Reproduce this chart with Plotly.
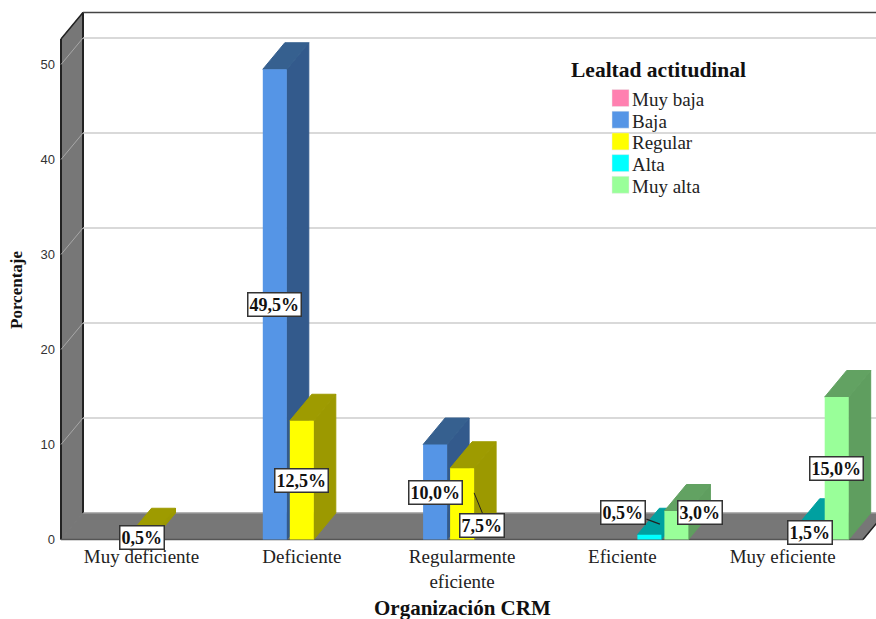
import plotly.graph_objects as go

# Survey percentages per CRM rating, one list per loyalty level
categories = ["Muy deficiente", "Deficiente", "Regularmente<br>eficiente", "Eficiente", "Muy eficiente"]
muy_baja = [None, None, None, None, None]
baja = [None, 49.5, 10.0, None, None]
regular = [0.5, 12.5, 7.5, None, None]
alta = [None, None, None, 0.5, 1.5]
muy_alta = [None, None, None, 3.0, 15.0]
y_ticks = [0, 10, 20, 30, 40, 50]

series_names = ["Muy baja", "Baja", "Regular", "Alta", "Muy alta"]
series_values = [muy_baja, baja, regular, alta, muy_alta]
front_colors = ["#ff80b0", "#5595e6", "#ffff00", "#00ffff", "#99ff99"]
side_colors = ["#a05070", "#335a8c", "#9c9900", "#009c9c", "#5f9e5f"]
top_colors = ["#a85578", "#36608f", "#9e9b00", "#00a0a0", "#62a262"]

# Plot frame and scale, in page pixels
W, H = 876, 619
L, R, T, B = 58, 876, 10, 543
PX_CAT = 160.3     # pixels per category
PX_VAL = 9.5       # pixels per percentage point
X0_PX, Y0_PX = 141.5, 539.5
x_range = [(L - X0_PX) / PX_CAT, (R - X0_PX) / PX_CAT]
y_range = [(Y0_PX - B) / PX_VAL, (Y0_PX - T) / PX_VAL]

DX = 22 / PX_CAT   # oblique depth along x
DY = 26.5 / PX_VAL # oblique depth along y
SLOT = 27 / PX_CAT
BAR = 24 / PX_CAT
WALL_X = (61 - X0_PX) / PX_CAT
FLOOR_X = (863 - X0_PX) / PX_CAT
WALL_TOP = (Y0_PX - 39) / PX_VAL


def poly(points, fill, line=None, width=1):
    path = "M" + " L".join(f"{x},{y}" for x, y in points) + " Z"
    return dict(type="path", path=path, xref="x", yref="y", layer="below",
                fillcolor=fill, line=dict(color=line or fill, width=width))


def seg(x0, y0, x1, y1, color, width, layer="below"):
    return dict(type="line", x0=x0, y0=y0, x1=x1, y1=y1, xref="x", yref="y",
                layer=layer, line=dict(color=color, width=width))


def px(x):
    return (x - L) / (R - L)


def py(y):
    return (B - y) / (B - T)


GREY = "#777777"
shapes = [
    # floor and left wall
    poly([(WALL_X, 0), (FLOOR_X, 0), (FLOOR_X + DX, DY), (WALL_X + DX, DY)], GREY),
    poly([(WALL_X, 0), (WALL_X + DX, DY), (WALL_X + DX, WALL_TOP + DY), (WALL_X, WALL_TOP)], GREY),
    seg(WALL_X, 0, WALL_X, WALL_TOP, "#222222", 2),
    seg(WALL_X + DX, DY, WALL_X + DX, WALL_TOP + DY, "#222222", 2),
    seg(WALL_X, WALL_TOP, WALL_X + DX, WALL_TOP + DY, "#222222", 1.5),
    seg(WALL_X + DX, WALL_TOP + DY, x_range[1], WALL_TOP + DY, "#444444", 1.5),
    seg(WALL_X, 0, FLOOR_X, 0, "#555555", 1.5),
    seg(FLOOR_X, 0, FLOOR_X + DX, DY, "#222222", 1.5),
    seg(WALL_X + DX, DY, x_range[1], DY, "#aaaaaa", 1),
]

# Gridlines on the back wall, and their slanted continuation over the left wall
for t in y_ticks[1:]:
    shapes.append(seg(WALL_X + DX, t + DY, x_range[1], t + DY, "#cccccc", 1.5))
    shapes.append(seg(WALL_X, t, WALL_X + DX, t + DY, "#a8a8a8", 1))

# White area kept clear for the legend
shapes.append(dict(type="rect", xref="paper", yref="paper", layer="below",
                   x0=px(517), x1=px(798), y0=py(235), y1=py(50),
                   fillcolor="white", line=dict(width=0)))

# Oblique side and top faces of each bar, computed from its value
for s, values in enumerate(series_values):
    offset = (s - 2) * SLOT
    for c, v in enumerate(values):
        if v is None:
            continue
        x0 = c + offset - BAR / 2
        x1 = c + offset + BAR / 2
        shapes.append(poly([(x1, 0), (x1 + DX, DY), (x1 + DX, v + DY), (x1, v)], side_colors[s]))
        shapes.append(poly([(x0, v), (x1, v), (x1 + DX, v + DY), (x0 + DX, v + DY)], top_colors[s]))

fig = go.Figure()
for name, values, color in zip(series_names, series_values, front_colors):
    fig.add_trace(go.Bar(name=name, x=list(range(len(categories))), y=values,
                         marker=dict(color=color, line=dict(width=0)), showlegend=False))


def pct(v):
    return f"{v:.1f}%".replace(".", ",")


# Value labels: (series index, category index, x shift, y shift) in pixels
label_nudges = [
    (2, 0, 0, 0), (1, 1, 0, 0), (2, 1, 0, 0), (1, 2, 0, 0), (2, 2, 20, -22),
    (3, 3, -26.5, 25), (4, 3, 23.5, 13), (3, 4, 0, 0), (4, 4, 0, 0),
]
annotations = []
for s, c, xs, ys in label_nudges:
    v = series_values[s][c]
    annotations.append(dict(
        x=c + (s - 2) * SLOT, y=v / 2, xref="x", yref="y", text=pct(v), showarrow=False,
        xanchor="center", yanchor="middle",
        xshift=xs, yshift=ys, bgcolor="white", bordercolor="#333333", borderwidth=1.5, borderpad=1,
        font=dict(family="Liberation Serif", size=18, color="#111111", weight="bold")))

# Leader lines for the two labels moved off their bars
shapes.append(seg(2 + 12 / PX_CAT, regular[2] / 2 + 11 / PX_VAL,
                  2 + 21 / PX_CAT, regular[2] / 2 - 11 / PX_VAL, "#222222", 1, "above"))
shapes.append(seg(3 + SLOT - 3 / PX_CAT, alta[3] / 2 + 18 / PX_VAL,
                  3 + SLOT + 10.5 / PX_CAT, alta[3] / 2 + 13 / PX_VAL, "#222222", 1.2, "above"))

# Legend block
annotations.append(dict(x=px(658), y=py(70), xref="paper", yref="paper", text="Lealtad actitudinal",
                        showarrow=False, xanchor="center", yanchor="middle",
                        font=dict(family="Liberation Serif", size=21.5, color="#111111", weight="bold")))
for i, (name, color) in enumerate(zip(series_names, front_colors)):
    yc = 98 + i * 21.7
    shapes.append(dict(type="rect", xref="paper", yref="paper", layer="above",
                       x0=px(612), x1=px(629), y0=py(yc + 8.5), y1=py(yc - 8.5),
                       fillcolor=color, line=dict(color="#e8e8e8", width=0.5)))
    annotations.append(dict(x=px(630), y=py(yc + 1.5), xref="paper", yref="paper", text=name,
                            xanchor="left", yanchor="middle", showarrow=False,
                            font=dict(family="Liberation Serif", size=19, color="#222222")))

# Axis titles
annotations.append(dict(x=px(462), y=py(608), xref="paper", yref="paper", text="Organización CRM",
                        showarrow=False, xanchor="center", yanchor="middle",
                        font=dict(family="Liberation Serif", size=21, color="#111111", weight="bold")))
annotations.append(dict(x=px(17), y=py(290), xref="paper", yref="paper", text="Porcentaje", textangle=-90,
                        showarrow=False, xanchor="center", yanchor="middle",
                        font=dict(family="Liberation Serif", size=17, color="#111111", weight="bold")))

fig.update_layout(
    width=W, height=H,
    margin=dict(l=L, r=W - R, t=T, b=H - B, pad=0),
    paper_bgcolor="white", plot_bgcolor="white",
    barmode="group", bargap=1 - 5 * SLOT, bargroupgap=1 - BAR / SLOT,
    shapes=shapes, annotations=annotations, showlegend=False,
    xaxis=dict(range=x_range, tickmode="array", tickvals=list(range(len(categories))), ticktext=categories,
               showgrid=False, zeroline=False, showline=False, ticks="",
               tickfont=dict(family="Liberation Serif", size=19, color="#222222")),
    yaxis=dict(range=y_range, tickmode="array", tickvals=y_ticks, showgrid=False, zeroline=False,
               showline=False, ticks="", ticklabelstandoff=2,
               tickfont=dict(family="Liberation Sans", size=13, color="#333333")),
)

fig.write_html("out.html", config=dict(displayModeBar=False))
